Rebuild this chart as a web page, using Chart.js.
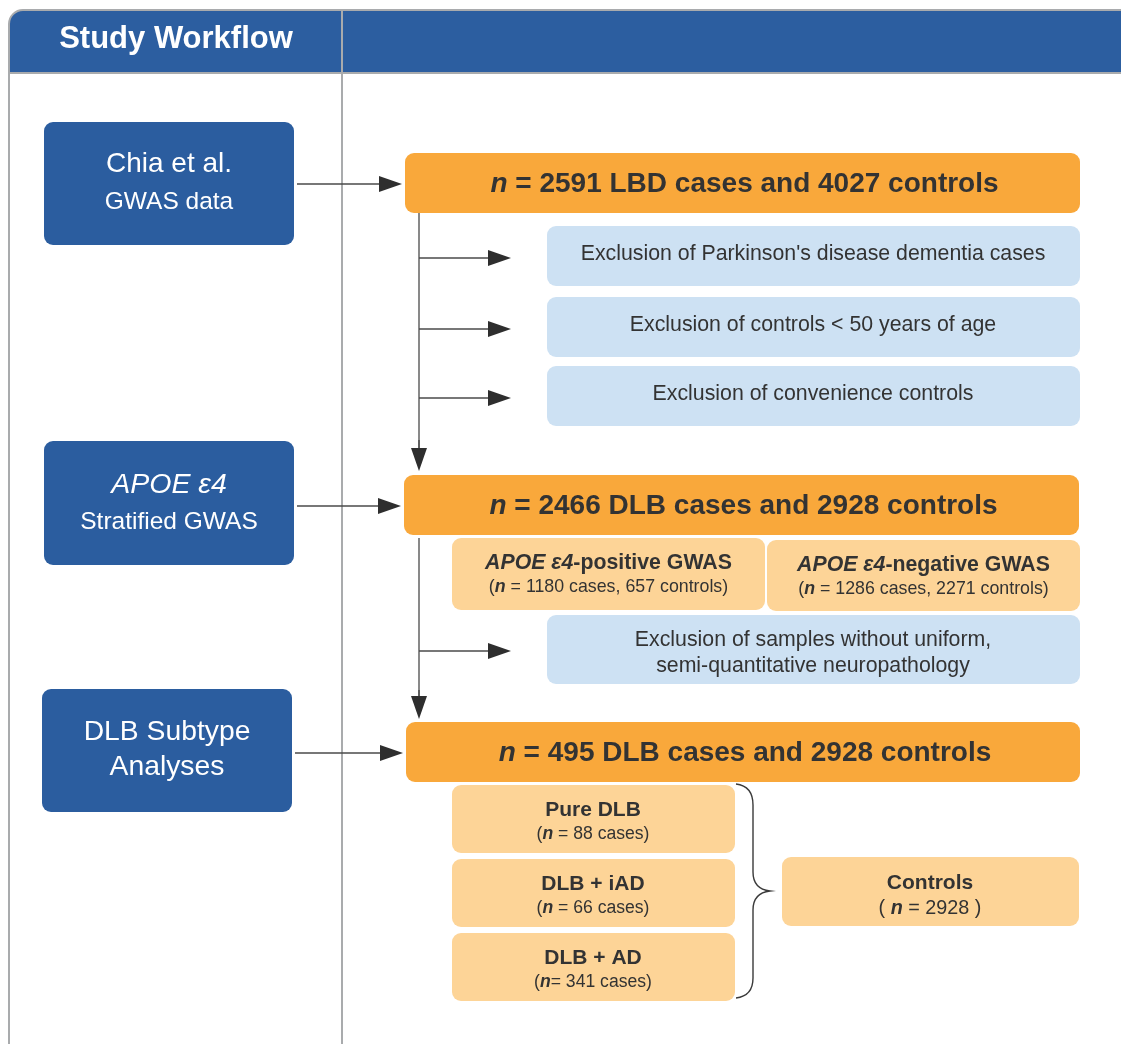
<!DOCTYPE html>
<html>
<head>
<meta charset="utf-8">
<script src="https://cdn.jsdelivr.net/npm/chart.js@4/dist/chart.umd.min.js"></script>
<style>
  html, body { margin: 0; padding: 0; background: #fff; }
  #wrap { width: 1121px; height: 1044px; }
</style>
</head>
<body>
<div id="wrap"><canvas id="flow" width="1121" height="1044"></canvas></div>
<script>
// Flowchart content
const stepTitles = ['Chia et al.', 'APOE ε4', 'DLB Subtype'];
const stepSubtitles = ['GWAS data', 'Stratified GWAS', 'Analyses'];
const cohortCases = [2591, 2466, 495];
const cohortGroups = ['LBD', 'DLB', 'DLB'];
const cohortControls = [4027, 2928, 2928];
const earlyExclusions = ["Exclusion of Parkinson's disease dementia cases", 'Exclusion of controls < 50 years of age', 'Exclusion of convenience controls'];
const lateExclusion = ['Exclusion of samples without uniform,', 'semi-quantitative neuropathology'];
const apoeStrata = ['positive', 'negative'];
const apoeCases = [1180, 1286];
const apoeControls = [657, 2271];
const subtypes = ['Pure DLB', 'DLB + iAD', 'DLB + AD'];
const subtypeCases = [88, 66, 341];
const controlsTotal = 2928;

const FONT = '"Liberation Sans", Arial, sans-serif';
const BLUE = '#2b5d9f', ORANGE = '#f9a83b', PEACH = '#fdd497', SKY = '#cde1f3', INK = '#333333';

// draws a row of text pieces with different fonts, centred on cx
function drawRuns(ctx, runs, cx, cy, color) {
    let total = 0;
    runs.forEach(r => { ctx.font = r.font; r.w = ctx.measureText(r.text).width; total += r.w; });
    let x = cx - total / 2;
    ctx.fillStyle = color;
    ctx.textAlign = 'left';
    ctx.textBaseline = 'middle';
    runs.forEach(r => { ctx.font = r.font; ctx.fillText(r.text, x, cy); x += r.w; });
}

const flowPlugin = {
    id: 'flow',
    afterDraw(chart) {
        const ctx = chart.ctx;
        const sx = chart.scales.x, sy = chart.scales.y;
        const X = v => sx.getPixelForValue(v);
        const Y = v => sy.getPixelForValue(v);

        function box(x0, y0, x1, y1, r, fill) {
            ctx.beginPath();
            ctx.roundRect(X(x0), Y(y0), X(x1) - X(x0), Y(y1) - Y(y0), r);
            ctx.fillStyle = fill;
            ctx.fill();
        }
        function arrow(x0, y0, x1, y1) {
            const dx = X(x1) - X(x0), dy = Y(y1) - Y(y0);
            const len = Math.hypot(dx, dy), ux = dx / len, uy = dy / len;
            const head = 23, half = 8;
            ctx.strokeStyle = '#4a4a4a';
            ctx.lineWidth = 1.3;
            ctx.beginPath();
            ctx.moveTo(X(x0), Y(y0));
            ctx.lineTo(X(x1) - ux * head, Y(y1) - uy * head);
            ctx.stroke();
            ctx.fillStyle = '#2e2e2e';
            ctx.beginPath();
            ctx.moveTo(X(x1), Y(y1));
            ctx.lineTo(X(x1) - ux * head - uy * half, Y(y1) - uy * head + ux * half);
            ctx.lineTo(X(x1) - ux * head + uy * half, Y(y1) - uy * head - ux * half);
            ctx.closePath();
            ctx.fill();
        }
        function line(x0, y0, x1, y1) {
            ctx.strokeStyle = '#4a4a4a';
            ctx.lineWidth = 1.3;
            ctx.beginPath();
            ctx.moveTo(X(x0), Y(y0));
            ctx.lineTo(X(x1), Y(y1));
            ctx.stroke();
        }

        ctx.save();

        // frame and header
        ctx.beginPath();
        ctx.roundRect(X(9), Y(10), X(1140) - X(9), Y(1070) - Y(10), 14);
        ctx.fillStyle = '#ffffff';
        ctx.fill();
        ctx.save();
        ctx.clip();
        ctx.fillStyle = '#2c5ea0';
        ctx.fillRect(X(9), Y(10), X(1140) - X(9), Y(73) - Y(10));
        ctx.restore();
        ctx.strokeStyle = '#a9abad';
        ctx.lineWidth = 2;
        ctx.stroke();
        ctx.beginPath();
        ctx.moveTo(X(9), Y(73)); ctx.lineTo(X(1121), Y(73));
        ctx.moveTo(X(342), Y(10)); ctx.lineTo(X(342), Y(1044));
        ctx.stroke();
        drawRuns(ctx, [{ text: 'Study Workflow', font: 'bold 31px ' + FONT }], X(176), Y(39), '#ffffff');

        // left-hand step boxes
        const stepRows = [[122, 245], [441, 565], [689, 812]];
        const stepX = [[44, 294], [44, 294], [42, 292]];
        const cohortRows = [[153, 213], [475, 535], [722, 782]];
        const cohortX = [[405, 1080], [404, 1079], [406, 1080]];
        stepTitles.forEach((t, i) => {
            const [y0, y1] = stepRows[i], [x0, x1] = stepX[i];
            box(x0, y0, x1, y1, 9, BLUE);
            const cx = (x0 + x1) / 2;
            if (i === 0) {
                drawRuns(ctx, [{ text: t, font: '28px ' + FONT }], X(cx), Y(164), '#fff');
                drawRuns(ctx, [{ text: stepSubtitles[i], font: '24.5px ' + FONT }], X(cx), Y(202), '#fff');
            } else if (i === 1) {
                drawRuns(ctx, [{ text: t, font: 'italic 28.5px ' + FONT }], X(cx), Y(485), '#fff');
                drawRuns(ctx, [{ text: stepSubtitles[i], font: '24.5px ' + FONT }], X(cx), Y(522), '#fff');
            } else {
                drawRuns(ctx, [{ text: t, font: '28.3px ' + FONT }], X(cx), Y(732), '#fff');
                drawRuns(ctx, [{ text: stepSubtitles[i], font: '28.3px ' + FONT }], X(cx), Y(767), '#fff');
            }
            // arrow into the cohort box
            const ay = (cohortRows[i][0] + cohortRows[i][1]) / 2 + 1;
            arrow(x1 + 3, ay, cohortX[i][0] - 3, ay);
        });

        // cohort boxes
        cohortCases.forEach((c, i) => {
            const [y0, y1] = cohortRows[i], [x0, x1] = cohortX[i];
            box(x0, y0, x1, y1, 9, ORANGE);
            const b = 'bold 28px ' + FONT;
            drawRuns(ctx, [
                { text: 'n', font: 'italic ' + b },
                { text: ' = ' + c + ' ' + cohortGroups[i] + ' cases and ' + cohortControls[i] + ' controls', font: b }
            ], X((x0 + x1) / 2 + 2), Y((y0 + y1) / 2 + 1), INK);
        });

        // trunk lines with side branches
        line(419, 213, 419, 450);
        arrow(419, 440, 419, 471);
        const exRows = [[226, 286], [297, 357], [366, 426]];
        earlyExclusions.forEach((t, i) => {
            const [y0, y1] = exRows[i];
            box(547, y0, 1080, y1, 9, SKY);
            drawRuns(ctx, [{ text: t, font: '21.3px ' + FONT }], X(813), Y((y0 + y1) / 2 - 2), INK);
            arrow(419, (y0 + y1) / 2 + 2, 511, (y0 + y1) / 2 + 2);
        });

        line(419, 538, 419, 700);
        arrow(419, 690, 419, 719);
        box(547, 615, 1080, 684, 9, SKY);
        drawRuns(ctx, [{ text: lateExclusion[0], font: '21.3px ' + FONT }], X(813), Y(640), INK);
        drawRuns(ctx, [{ text: lateExclusion[1], font: '21.3px ' + FONT }], X(813), Y(666), INK);
        arrow(419, 651, 511, 651);

        // APOE strata
        const apoeX = [[452, 765], [767, 1080]];
        const apoeY = [[538, 610], [540, 611]];
        apoeStrata.forEach((s, i) => {
            const [x0, x1] = apoeX[i], [y0, y1] = apoeY[i];
            box(x0, y0, x1, y1, 9, PEACH);
            const cx = (x0 + x1) / 2;
            drawRuns(ctx, [
                { text: 'APOE ε4', font: 'italic bold 21.3px ' + FONT },
                { text: '-' + s + ' GWAS', font: 'bold 21.3px ' + FONT }
            ], X(cx), Y(y0 + 25), INK);
            drawRuns(ctx, [
                { text: '(', font: '17.8px ' + FONT },
                { text: 'n', font: 'italic bold 17.8px ' + FONT },
                { text: ' = ' + apoeCases[i] + ' cases, ' + apoeControls[i] + ' controls)', font: '17.8px ' + FONT }
            ], X(cx), Y(y0 + 49), INK);
        });

        // subtype boxes
        const subRows = [[785, 853], [859, 927], [933, 1001]];
        subtypes.forEach((s, i) => {
            const [y0, y1] = subRows[i];
            box(452, y0, 735, y1, 9, PEACH);
            drawRuns(ctx, [{ text: s, font: 'bold 21px ' + FONT }], X(593), Y(y0 + 25), INK);
            drawRuns(ctx, [
                { text: '(', font: '17.6px ' + FONT },
                { text: 'n', font: 'italic bold 17.6px ' + FONT },
                { text: (i === 2 ? '= ' : ' = ') + subtypeCases[i] + ' cases)', font: '17.6px ' + FONT }
            ], X(593), Y(y0 + 49), INK);
        });

        // brace
        ctx.strokeStyle = '#3a3a3a';
        ctx.lineWidth = 1.4;
        ctx.beginPath();
        ctx.moveTo(X(736), Y(784));
        ctx.quadraticCurveTo(X(753), Y(786), X(753), Y(805));
        ctx.lineTo(X(753), Y(872));
        ctx.quadraticCurveTo(X(753), Y(889), X(770), Y(891));
        ctx.quadraticCurveTo(X(753), Y(893), X(753), Y(910));
        ctx.lineTo(X(753), Y(978));
        ctx.quadraticCurveTo(X(753), Y(996), X(736), Y(998));
        ctx.stroke();

        // controls box
        box(782, 857, 1079, 926, 9, PEACH);
        drawRuns(ctx, [{ text: 'Controls', font: 'bold 21px ' + FONT }], X(930), Y(883), INK);
        drawRuns(ctx, [
            { text: '( ', font: '19.8px ' + FONT },
            { text: 'n', font: 'italic bold 19.8px ' + FONT },
            { text: ' = ' + controlsTotal + ' )', font: '19.8px ' + FONT }
        ], X(930), Y(909), INK);

        ctx.restore();
    }
};

new Chart(document.getElementById('flow'), {
    type: 'scatter',
    data: { datasets: [{ data: [], pointRadius: 0 }] },
    options: {
        responsive: false,
        animation: false,
        devicePixelRatio: 1,
        layout: { padding: 0 },
        plugins: { legend: { display: false }, tooltip: { enabled: false } },
        scales: {
            x: { type: 'linear', min: 0, max: 1121, display: false },
            y: { type: 'linear', min: 0, max: 1044, reverse: true, display: false }
        }
    },
    plugins: [flowPlugin]
});
</script>
</body>
</html>
